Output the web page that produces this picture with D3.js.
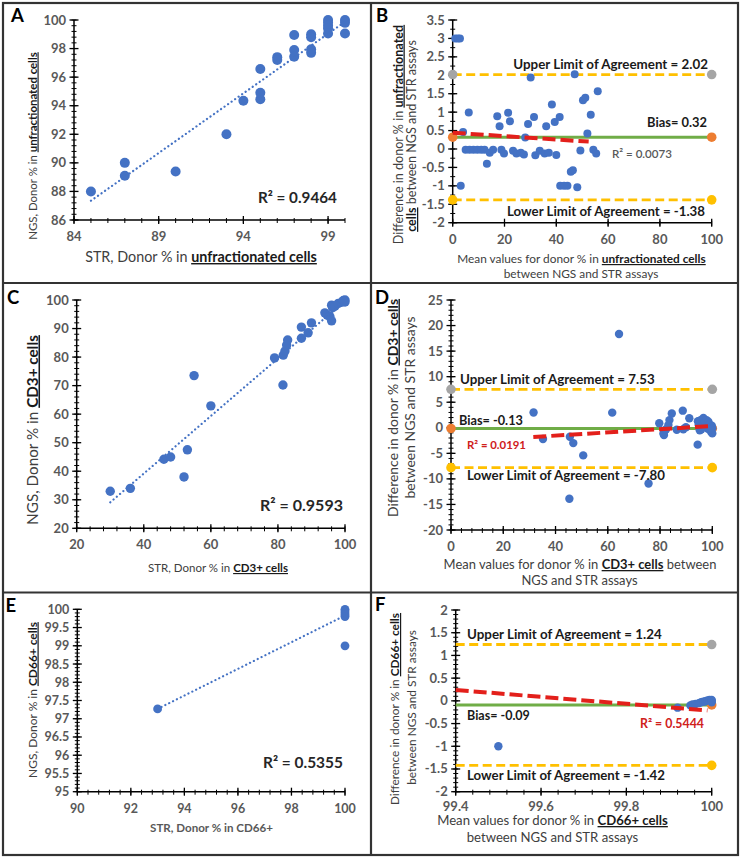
<!DOCTYPE html>
<html><head><meta charset="utf-8">
<script src="https://cdn.jsdelivr.net/npm/d3@7"></script>
<style>
body{margin:0;background:#fff}
svg{display:block}
text{font-family:Lato,'Open Sans',sans-serif}
</style>
</head><body>
<svg id="fig" width="740" height="858"></svg>
<script>
// ---------------- DATA ----------------
// Panel A: STR vs NGS, unfractionated cells
const aSTR = [85, 87, 87, 90, 93, 94, 95, 95, 95, 96, 96, 97, 97, 97, 98, 98, 98, 98, 99, 99, 99, 99, 99, 100, 100, 100];
const aNGS = [88, 90, 89.1, 89.4, 92, 94.35, 94.45, 94.9, 96.57, 97.4, 97.2, 98.95, 97.9, 97.43, 99.0, 98.8, 97.95, 97.7, 100, 99.8, 99.6, 99.4, 99.05, 100, 99.8, 99.05];
const aTrendX = [85, 100];
const aTrendY = [87.35, 99.88];
const aR2 = "R² = 0.9464";
const aXTicks = [84, 89, 94, 99];
const aYTicks = [86, 88, 90, 92, 94, 96, 98, 100];

// Panel B: Bland-Altman, unfractionated cells
const bMean = [1, 2, 2.8, 3.1, 4, 5, 6.2, 6.5, 8, 9.5, 11, 12.3, 13.2, 14.3, 15.6, 17.2, 18.1, 18.8, 19.8, 21.4, 22.1, 23.3, 24.6, 26.3, 27.5, 28, 29.1, 30.1, 31.4, 31.9, 33.6, 35.5, 36.1, 37.1, 38.3, 39.4, 40, 41.3, 41.5, 43, 44.3, 45.6, 46.4, 47.1, 48.1, 49.3, 50.3, 51.2, 52, 53.3, 54.3, 55.4, 56];
const bDiff = [3, 3, 3, -1.0, 0.46, -0.02, 0.99, -0.02, -0.02, -0.02, -0.02, -0.02, -0.40, -0.1, -0.02, 0.89, 0.62, -0.02, -0.12, 0.98, 0.75, -0.05, -0.12, -0.1, -0.15, 0.31, 0.68, 1.94, 0.87, -0.17, -0.05, -0.12, 0.62, -0.1, 1.21, 0.73, -0.16, 0.87, -1.0, -1.0, -1.0, -0.62, -0.58, 2.03, -1.04, -0.04, 1.32, 1.39, 0.42, 0.93, -0.02, -0.12, 1.57];
const bLimits = [2.02, 0.32, -1.38]; // upper, bias, lower
const bTrendX = [0, 52.5];
const bTrendY = [0.44, 0.2];
const bR2 = "R² = 0.0073";
const bXTicks = [0, 20, 40, 60, 80, 100];
const bYTicks = [-2, -1.5, -1, -0.5, 0, 0.5, 1, 1.5, 2, 2.5, 3, 3.5];

// Panel C: STR vs NGS, CD3+ cells
const cSTR = [30, 36, 46, 48, 53, 52, 55, 60, 79, 81.5, 81.6, 82.1, 82.6, 82.9, 87, 87, 89, 90, 94, 94.7, 95.5, 96, 96.3, 96, 97, 98, 99, 99.5, 100, 100];
const cNGS = [33, 34, 44.2, 45, 47.5, 38, 73.5, 62.9, 79.7, 70.2, 80.7, 82.1, 84.2, 86, 86.6, 90.5, 88.5, 92, 95.5, 94.7, 94.2, 92.7, 97.3, 98.2, 97.8, 98.8, 99.2, 99.8, 100, 99.3];
const cTrendX = [30, 100];
const cTrendY = [29.1, 99.7];
const cR2 = "R² = 0.9593";
const cXTicks = [20, 40, 60, 80, 100];
const cYTicks = [20, 30, 40, 50, 60, 70, 80, 90, 100];

// Panel D: Bland-Altman, CD3+ cells
const dMean = [31.6, 35.2, 45.5, 46.8, 45.3, 50.6, 61.7, 64.3, 75.6, 79.7, 81.3, 81.5, 82.3, 83.2, 83.6, 84.5, 86.4, 88.7, 88.9, 89.9, 91.2, 94.4, 94.5, 94.8, 95.2, 95.5, 96, 96.6, 97.2, 97.8, 98.3, 98.5, 99, 99.5, 99.8, 100, 100, 99.2, 95.8];
const dDiff = [3.0, -2.2, -1.75, -3.0, -13.9, -5.4, 2.96, 18.35, -10.9, 0.9, -1.1, -1.4, -0.3, 0.55, 1.5, 2.8, -0.4, 3.35, -0.3, 0.1, 1.86, -3.3, 1.3, 0.6, -0.5, 1.5, 0.3, 1.9, 1.1, 1.5, -0.2, 1.2, 0.6, -0.8, 0.4, -0.1, -1.1, -0.4, -0.3];
const dLimits = [7.53, -0.13, -7.80];
const dTrendX = [31.5, 100];
const dTrendY = [-1.8, 0.35];
const dR2 = "R² = 0.0191";
const dXTicks = [0, 20, 40, 60, 80, 100];
const dYTicks = [-20, -15, -10, -5, 0, 5, 10, 15, 20, 25];

// Panel E: STR vs NGS, CD66+ cells
const eSTR = [93, 100, 100, 100, 100, 100, 100];
const eNGS = [97.27, 99, 100, 99.95, 99.9, 99.85, 99.8];
const eTrendX = [93, 100];
const eTrendY = [97.27, 99.83];
const eR2 = "R² = 0.5355";
const eXTicks = [90, 92, 94, 96, 98, 100];
const eYTicks = [95, 95.5, 96, 96.5, 97, 97.5, 98, 98.5, 99, 99.5, 100];

// Panel F: Bland-Altman, CD66+ cells
const fMean = [99.5, 99.92, 99.95, 99.955, 99.962, 99.97, 99.975, 99.98, 99.985, 99.99, 99.995, 100, 100, 100];
const fDiff = [-1, -0.15, -0.1, -0.08, -0.07, -0.05, -0.03, -0.02, -0.01, 0.01, 0.02, 0, -0.03, 0.02];
const fLimits = [1.24, -0.09, -1.42];
const fTrendX = [99.4, 99.99];
const fTrendY = [0.24, -0.21];
const fR2 = "R² = 0.5444";
const fXTicks = [99.4, 99.6, 99.8, 100];
const fYTicks = [-2, -1.5, -1, -0.5, 0, 0.5, 1, 1.5, 2];

// ---------------- DRAWING ----------------
const svg = d3.select('#fig');
const BLUE = '#4472C4', GOLD = '#FFC000', GREEN = '#70AD47', ORANGE = '#ED7D31', GREY = '#A5A5A5', RED = '#E3201B';
const fmt = v => String(Math.round(v * 100) / 100);

// font size that makes a text span the given width
function fitSize(t, w) {
  const L = t.node().getComputedTextLength();
  return L > 0 ? (+t.attr('font-size')) * w / L : +t.attr('font-size');
}
function fit(t, w) { t.attr('font-size', fitSize(t, w)); return t; }

function makePanel(o) {
  const g = svg.append('g');
  const x = d3.scaleLinear().domain(o.xDomain).range([o.left, o.right]);
  const y = d3.scaleLinear().domain(o.yDomain).range([o.bottom, o.top]);
  const clipId = 'clip' + o.id;
  svg.append('clipPath').attr('id', clipId).append('rect')
    .attr('x', o.left - 6).attr('y', o.top - 6).attr('width', o.right - o.left + 12).attr('height', o.bottom - o.top + 12);
  const ax = g.append('g');
  const eps = 1e-9;
  const xm = d3.range(o.xDomain[0], o.xDomain[1] + eps, o.xMinor);
  const ym = d3.range(o.yDomain[0], o.yDomain[1] + eps, o.yMinor);
  ax.selectAll('.xm').data(xm).join('line')
    .attr('x1', d => x(d)).attr('x2', d => x(d)).attr('y1', o.bottom - 2).attr('y2', o.bottom + 3)
    .attr('stroke', '#000').attr('stroke-width', 1);
  ax.selectAll('.ym').data(ym).join('line')
    .attr('y1', d => y(d)).attr('y2', d => y(d)).attr('x1', o.left - 2.5).attr('x2', o.left + 2.5)
    .attr('stroke', '#000').attr('stroke-width', 1);
  ax.selectAll('.xM').data(o.xTicks).join('line')
    .attr('x1', d => x(d)).attr('x2', d => x(d)).attr('y1', o.bottom - 4).attr('y2', o.bottom + 4)
    .attr('stroke', '#000').attr('stroke-width', 1.3);
  ax.selectAll('.yM').data(o.yTicks).join('line')
    .attr('y1', d => y(d)).attr('y2', d => y(d)).attr('x1', o.left - 4.5).attr('x2', o.left + 4.5)
    .attr('stroke', '#000').attr('stroke-width', 1.3);
  ax.append('line').attr('x1', o.left).attr('x2', o.right).attr('y1', o.bottom).attr('y2', o.bottom)
    .attr('stroke', '#000').attr('stroke-width', 1.5);
  ax.append('line').attr('x1', o.left).attr('x2', o.left).attr('y1', o.top).attr('y2', o.bottom)
    .attr('stroke', '#000').attr('stroke-width', 1.5);
  ax.selectAll('.xl').data(o.xTicks).join('text')
    .attr('x', d => x(d)).attr('y', o.bottom + (o.xLabOff || 21)).attr('text-anchor', 'middle')
    .attr('font-size', o.tickSize || 13).attr('font-weight', 700).attr('fill', '#595959').text(fmt);
  ax.selectAll('.yl').data(o.yTicks).join('text')
    .attr('x', o.left - 8).attr('y', d => y(d) + 4.5).attr('text-anchor', 'end')
    .attr('font-size', o.tickSize || 13).attr('font-weight', 700).attr('fill', '#595959').text(fmt);
  return { g, x, y, clipId };
}

// parts: [text, emphasised?]
function richText(parts, attrs) {
  const t = svg.append('text');
  Object.entries(attrs).forEach(([k, v]) => t.attr(k, v));
  if (!attrs['font-size']) t.attr('font-size', 13);
  if (!attrs.fill) t.attr('fill', '#404040');
  parts.forEach(p => {
    const s = t.append('tspan').text(p[0]);
    if (p[1]) s.attr('font-weight', 700).attr('text-decoration', 'underline').attr('fill', '#1a1a1a');
  });
  return t;
}
// a title of one or more lines, all lines sharing one font size fitted to the reference widths
function title(lines) {
  const ts = lines.map(l => richText(l[0], l[1]));
  const sizes = ts.map((t, i) => fitSize(t, lines[i][2]));
  const fs = d3.mean(sizes);
  ts.forEach(t => t.attr('font-size', fs));
}

function label(x, y, txt, width, opts = {}) {
  const t = svg.append('text').attr('x', x).attr('y', y).attr('text-anchor', opts.anchor || 'start')
    .attr('font-size', opts.size || 14).attr('font-weight', opts.weight || 700).attr('fill', opts.fill || '#1a1a1a').text(txt);
  if (width) fit(t, width);
  return t;
}

function scatterPanel(o, xs, ys, tx, ty, r) {
  const p = makePanel(o);
  const pts = xs.map((v, i) => [v, ys[i]]);
  p.g.append('g').selectAll('circle').data(pts).join('circle')
    .attr('cx', d => p.x(d[0])).attr('cy', d => p.y(d[1])).attr('r', r).attr('fill', BLUE);
  const line = d3.line().x(d => p.x(d[0])).y(d => p.y(d[1]));
  p.g.append('path').datum(tx.map((v, i) => [v, ty[i]])).attr('d', line)
    .attr('fill', 'none').attr('stroke', BLUE).attr('stroke-width', 2.2)
    .attr('stroke-linecap', 'round').attr('stroke-dasharray', '0.1,4.2');
  return p;
}

function baPanel(o, xs, ys, limits, tx, ty, r) {
  const p = makePanel(o);
  const lx0 = Math.max(0, o.xDomain[0]), lx1 = 100;
  const lg = p.g.append('g').attr('clip-path', `url(#${p.clipId})`);
  const cols = [[GOLD, GREY], [GREEN, ORANGE], [GOLD, GOLD]];
  limits.forEach((v, i) => {
    lg.append('line').attr('x1', p.x(lx0)).attr('x2', p.x(lx1)).attr('y1', p.y(v)).attr('y2', p.y(v))
      .attr('stroke', cols[i][0]).attr('stroke-width', i === 1 ? 3 : 2.8)
      .attr('stroke-dasharray', i === 1 ? null : '9,4.5');
    [0, 100].filter(xv => xv >= o.xDomain[0]).forEach(xv => {
      lg.append('circle').attr('cx', p.x(xv)).attr('cy', p.y(v)).attr('r', 4.8).attr('fill', cols[i][1]);
    });
  });
  const pts = xs.map((v, i) => [v, ys[i]]);
  p.g.append('g').selectAll('circle').data(pts).join('circle')
    .attr('cx', d => p.x(d[0])).attr('cy', d => p.y(d[1])).attr('r', r).attr('fill', BLUE);
  const line = d3.line().x(d => p.x(d[0])).y(d => p.y(d[1]));
  p.g.append('path').datum(tx.map((v, i) => [v, ty[i]])).attr('d', line)
    .attr('fill', 'none').attr('stroke', RED).attr('stroke-width', 4).attr('stroke-dasharray', '13,5');
  return p;
}

// ----- Panel A -----
scatterPanel({ id: 'A', left: 74, right: 345, top: 20, bottom: 220, xDomain: [84, 100], yDomain: [86, 100],
  xTicks: aXTicks, yTicks: aYTicks, xMinor: 1, yMinor: 0.4 }, aSTR, aNGS, aTrendX, aTrendY, 5);
label(258, 203, aR2, 79, { size: 16.5, fill: '#262626' });
title([[[['NGS, Donor % in '], ['unfractionated cells', 1]], { transform: 'translate(36.5,146) rotate(-90)', 'text-anchor': 'middle' }, 188]]);
title([[[['STR, Donor % in '], ['unfractionated cells', 1]], { x: 201, y: 262, 'text-anchor': 'middle' }, 232]]);

// ----- Panel B -----
baPanel({ id: 'B', left: 452.7, right: 711.7, top: 20, bottom: 222.7, xDomain: [0, 100], yDomain: [-2, 3.5],
  xTicks: bXTicks, yTicks: bYTicks, xMinor: 20, yMinor: 0.25 }, bMean, bDiff, bLimits, bTrendX, bTrendY, 4);
label(708, 68.5, 'Upper Limit of Agreement = ' + bLimits[0].toFixed(2), 195, { anchor: 'end' });
label(707, 127, 'Bias= ' + bLimits[1].toFixed(2), 60, { anchor: 'end' });
label(612, 157.5, bR2, 60, { size: 12, weight: 600, fill: '#595959' });
label(705, 215.5, 'Lower Limit of Agreement = ' + bLimits[2].toFixed(2), 198, { anchor: 'end' });
title([
  [[['Difference in donor % in '], ['unfractionated', 1]], { transform: 'translate(402.5,134.5) rotate(-90)', 'text-anchor': 'middle' }, 225],
  [[['cells', 1], [' between NGS and STR assays']], { transform: 'translate(416,136) rotate(-90)', 'text-anchor': 'middle' }, 187]]);
title([
  [[['Mean values for donor % in '], ['unfractionated cells', 1]], { x: 581.5, y: 263, 'text-anchor': 'middle' }, 253],
  [[['between NGS and STR assays']], { x: 581, y: 278, 'text-anchor': 'middle' }, 152]]);

// ----- Panel C -----
scatterPanel({ id: 'C', left: 76.7, right: 345, top: 300, bottom: 528.3, xDomain: [20, 100], yDomain: [20, 100],
  xTicks: cXTicks, yTicks: cYTicks, xMinor: 4, yMinor: 2 }, cSTR, cNGS, cTrendX, cTrendY, 4.7);
label(260, 511, cR2, 83, { size: 16.5, fill: '#262626' });
title([[[['NGS, Donor % in '], ['CD3+ cells', 1]], { transform: 'translate(37.5,430) rotate(-90)', 'text-anchor': 'middle' }, 190]]);
title([[[['STR, Donor % in '], ['CD3+ cells', 1]], { x: 218, y: 572, 'text-anchor': 'middle' }, 140]]);

// ----- Panel D -----
baPanel({ id: 'D', left: 451, right: 712.3, top: 300, bottom: 530, xDomain: [0, 100], yDomain: [-20, 25],
  xTicks: dXTicks, yTicks: dYTicks, xMinor: 4, yMinor: 1 }, dMean, dDiff, dLimits, dTrendX, dTrendY, 4.2);
label(460, 384, 'Upper Limit of Agreement = ' + dLimits[0].toFixed(2), 195);
label(459, 425, 'Bias= ' + dLimits[1].toFixed(2), 64);
label(467, 449, dR2, 59, { size: 13, fill: '#D0201B' });
label(467, 480, 'Lower Limit of Agreement = ' + dLimits[2].toFixed(2), 198);
title([
  [[['Difference in donor % in '], ['CD3+ cells', 1]], { transform: 'translate(397.5,408) rotate(-90)', 'text-anchor': 'middle' }, 220],
  [[['between NGS and STR assays']], { transform: 'translate(415,407.5) rotate(-90)', 'text-anchor': 'middle' }, 181]]);
title([
  [[['Mean values for donor % in '], ['CD3+ cells', 1], [' between']], { x: 580, y: 569, 'text-anchor': 'middle' }, 276],
  [[['NGS and STR assays']], { x: 579.5, y: 585, 'text-anchor': 'middle' }, 115]]);

// ----- Panel E -----
scatterPanel({ id: 'E', left: 77.3, right: 345, top: 609.3, bottom: 791.7, xDomain: [90, 100], yDomain: [95, 100],
  xTicks: eXTicks, yTicks: eYTicks, xMinor: 0.4, yMinor: 0.1, tickSize: 12.5 }, eSTR, eNGS, eTrendX, eTrendY, 4.4);
label(263, 768, eR2, 80, { size: 16.5, fill: '#262626' });
title([[[['NGS, Donor  % in '], ['CD66+ cells', 1]], { transform: 'translate(36.5,700) rotate(-90)', 'text-anchor': 'middle' }, 156]]);
label(211.5, 832, 'STR, Donor % in CD66+', 123, { anchor: 'middle', size: 11.5, fill: '#595959' });

// ----- Panel F -----
baPanel({ id: 'F', left: 455.7, right: 711.7, top: 610, bottom: 791.7, xDomain: [99.4, 100], yDomain: [-2, 2],
  xTicks: fXTicks, yTicks: fYTicks, xMinor: 0.04, yMinor: 0.1, xLabOff: 19 }, fMean, fDiff, fLimits, fTrendX, fTrendY, 4.2);
label(467, 639, 'Upper Limit of Agreement = ' + fLimits[0].toFixed(2), 195);
label(467, 720, 'Bias= ' + fLimits[1].toFixed(2), 63);
label(640, 728, fR2, 64, { size: 13, fill: '#D0201B' });
label(467, 780, 'Lower Limit of Agreement = ' + fLimits[2].toFixed(2), 198);
title([
  [[['Difference in donor % in '], ['CD66+ cells', 1]], { transform: 'translate(399,709) rotate(-90)', 'text-anchor': 'middle' }, 192],
  [[['between NGS and STR assays']], { transform: 'translate(415.5,707.5) rotate(-90)', 'text-anchor': 'middle' }, 155]]);
title([
  [[['Mean values for donor % in '], ['CD66+ cells', 1]], { x: 552.5, y: 825, 'text-anchor': 'middle' }, 232],
  [[['between NGS and STR assays']], { x: 552.5, y: 841.5, 'text-anchor': 'middle' }, 171]]);

// ----- frame & letters -----
const frame = svg.append('g').attr('stroke', '#333').attr('stroke-width', 2.2).attr('fill', 'none');
frame.append('rect').attr('x', 3).attr('y', 3).attr('width', 735).attr('height', 852);
frame.append('line').attr('x1', 371).attr('x2', 371).attr('y1', 3).attr('y2', 855);
frame.append('line').attr('x1', 3).attr('x2', 738).attr('y1', 283).attr('y2', 283);
frame.append('line').attr('x1', 3).attr('x2', 738).attr('y1', 592.5).attr('y2', 592.5);
const letters = [['A', 11, 21.5], ['B', 376, 21.7], ['C', 7, 303.5], ['D', 375, 303.5], ['E', 5.5, 611.7], ['F', 375, 611]];
svg.selectAll('.letter').data(letters).join('text')
  .attr('x', d => d[1]).attr('y', d => d[2]).attr('font-family', 'Liberation Sans, Arial, sans-serif')
  .attr('font-size', 18.5).attr('font-weight', 700).attr('fill', '#000').text(d => d[0]);
</script>
</body></html>
